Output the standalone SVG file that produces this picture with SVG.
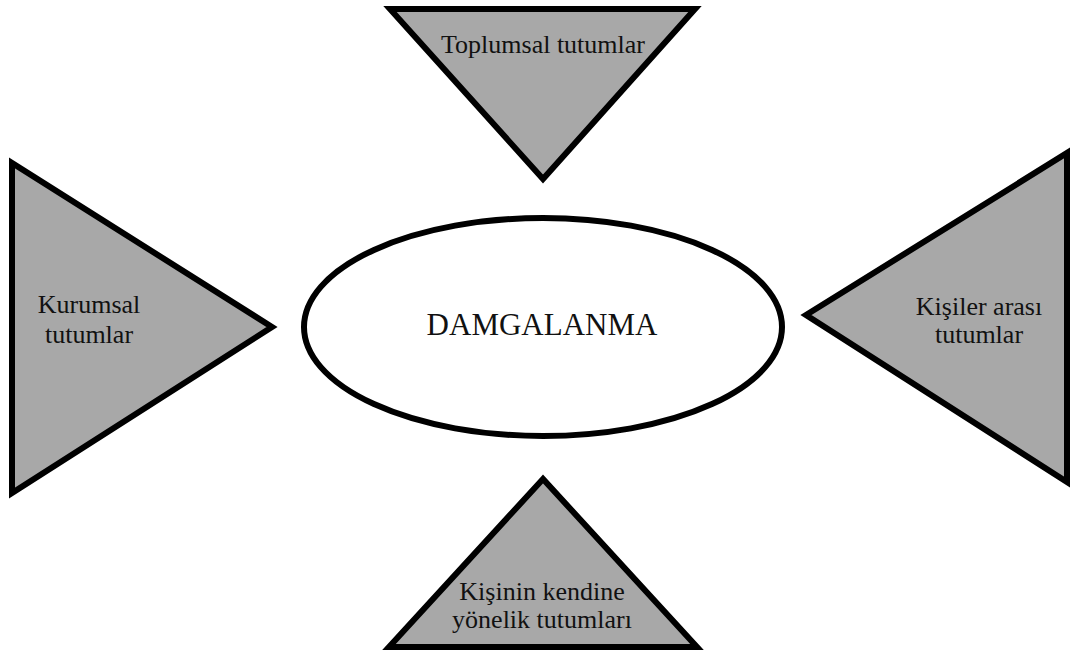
<svg xmlns="http://www.w3.org/2000/svg" width="1076" height="657" viewBox="0 0 1076 657">
<style>
.tri{fill:#a8a8a8;stroke:#000;stroke-width:6;stroke-linejoin:miter}
.t{font-family:"Liberation Serif","Times New Roman",serif;font-size:26px;fill:#111;text-anchor:middle}
.big{font-size:31px}
</style>
<rect width="1076" height="657" fill="#fff"/>
<g id="connectors"></g>
<g id="top">
<polygon class="tri" points="390,9 695,9 543,179"/>
<text class="t" x="543" y="53">Toplumsal tutumlar</text>
</g>
<g id="left">
<polygon class="tri" points="12,163 12,493 272,327"/>
<text class="t" x="89" y="313">Kurumsal</text>
<text class="t" x="89" y="343">tutumlar</text>
</g>
<g id="right">
<polygon class="tri" points="1067,153 1067,482 806,315"/>
<text class="t" x="979" y="315">Kişiler arası</text>
<text class="t" x="979" y="343">tutumlar</text>
</g>
<g id="bottom">
<polygon class="tri" points="543,479 389,647 697,647"/>
<text class="t" x="542" y="600">Kişinin kendine</text>
<text class="t" x="542" y="628">yönelik tutumları</text>
</g>
<g id="center">
<ellipse cx="543" cy="327" rx="239" ry="109" fill="#fff" stroke="#000" stroke-width="6"/>
<text class="t big" x="542" y="335">DAMGALANMA</text>
</g>
</svg>
